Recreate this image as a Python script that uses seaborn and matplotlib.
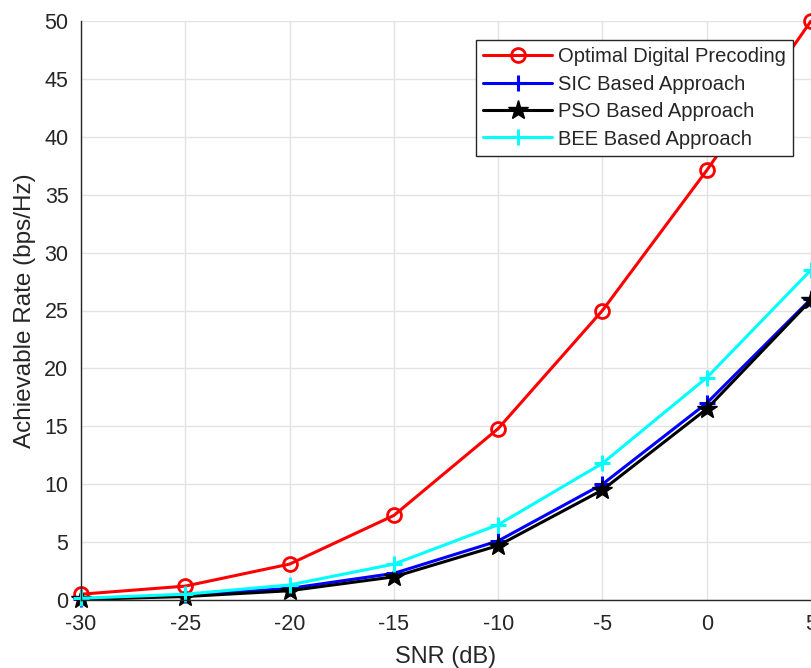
import matplotlib
matplotlib.use("Agg")
import matplotlib.pyplot as plt
import seaborn as sns
import pandas as pd

snr_db = [-30, -25, -20, -15, -10, -5, 0, 5]
optimal = [0.5, 1.2, 3.1, 7.3, 14.8, 25.0, 37.1, 50.0]
sic = [0.1, 0.4, 1.0, 2.3, 5.1, 10.0, 17.0, 26.0]
pso = [0.05, 0.3, 0.8, 2.0, 4.7, 9.5, 16.5, 25.9]
bee = [0.15, 0.5, 1.3, 3.1, 6.5, 11.8, 19.2, 28.5]

series_names = ["Optimal Digital Precoding", "SIC Based Approach",
                "PSO Based Approach", "BEE Based Approach"]
series_values = [optimal, sic, pso, bee]

sns.set_theme(style="white")
plt.rcParams["font.family"] = ["Liberation Sans", "DejaVu Sans"]

fig = plt.figure(figsize=(8.12, 6.68), dpi=100)
ax = fig.add_axes([81 / 812, 68 / 668, 730 / 812, 579 / 668])

styles = [
    dict(color="#ff0000", marker="o", markersize=10, markerfacecolor="none",
         markeredgecolor="#ff0000", markeredgewidth=2),
    dict(color="#0000ff", marker="+", markersize=11, markeredgewidth=2.2,
         markeredgecolor="#0000ff"),
    dict(color="#000000", marker="*", markersize=15, markerfacecolor="#000000",
         markeredgecolor="#000000", markeredgewidth=1),
    dict(color="#00ffff", marker="+", markersize=11, markeredgewidth=2.2,
         markeredgecolor="#00ffff"),
]

for name, vals, st in zip(series_names, series_values, styles):
    df = pd.DataFrame({"SNR": snr_db, "Rate": vals})
    sns.lineplot(data=df, x="SNR", y="Rate", ax=ax, label=name,
                 linewidth=2.2, clip_on=False, **st)

ax.set_xlim(-30, 5)
ax.set_ylim(0, 50)
ax.set_xticks(snr_db)
ax.set_xticklabels([str(v) for v in snr_db])
ax.set_yticks(range(0, 51, 5))

ax.grid(True, color="#e3e3e3", linewidth=1.0)
ax.set_axisbelow(True)
for side in ("top", "right"):
    ax.spines[side].set_visible(False)
for side in ("left", "bottom"):
    ax.spines[side].set_color("#262626")
    ax.spines[side].set_linewidth(1.0)

ax.tick_params(axis="both", direction="in", length=5, width=1.0,
               colors="#262626", labelsize=15.5, pad=9)
ax.tick_params(axis="x", pad=10)

ax.set_xlabel("SNR (dB)", fontsize=17, color="#262626", labelpad=8)
ax.set_ylabel("Achievable Rate (bps/Hz)", fontsize=17.5, color="#262626", labelpad=6)

leg = ax.legend(loc="upper right", bbox_to_anchor=(0.975, 0.967),
                fontsize=14.5, frameon=True, fancybox=False, framealpha=1,
                edgecolor="#262626", handlelength=3.4, labelspacing=0.42,
                borderpad=0.35, handletextpad=0.3, borderaxespad=0)
leg.get_frame().set_linewidth(1.0)

fig.savefig("out.png", dpi=100)
